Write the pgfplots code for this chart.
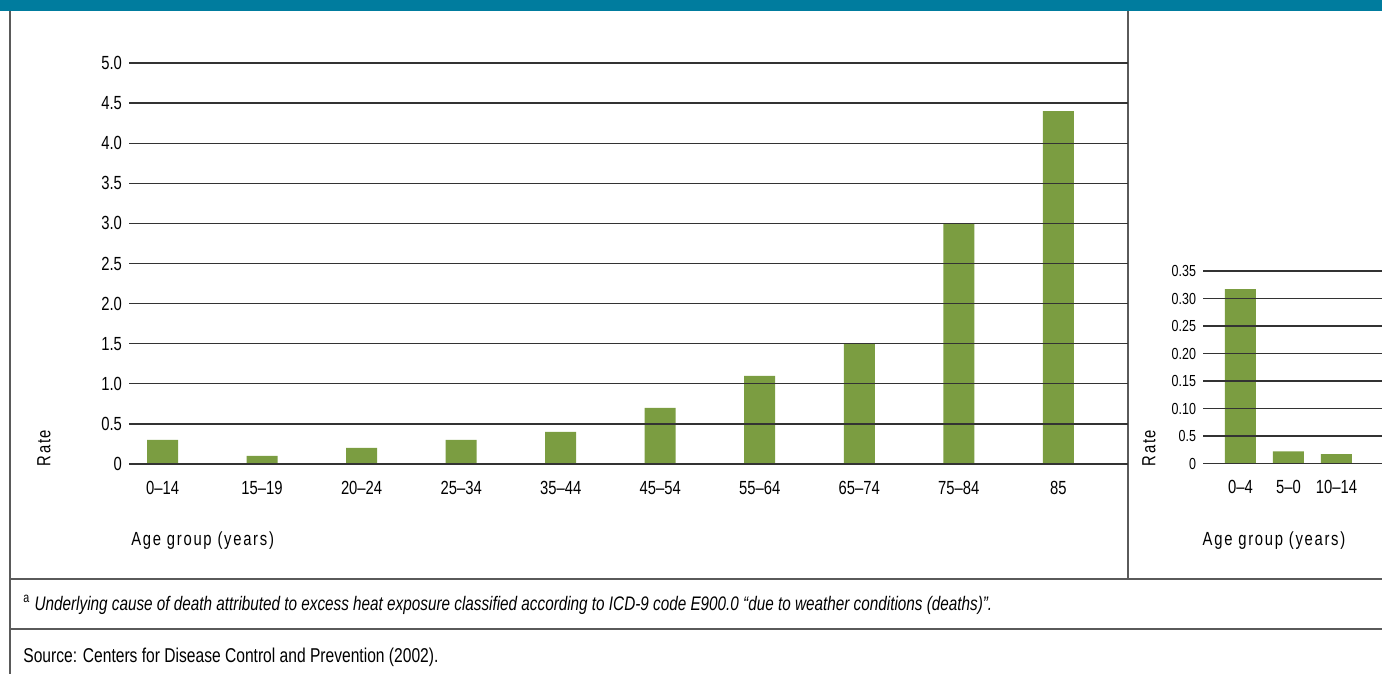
\documentclass[border=0pt]{standalone}
\usepackage{fontspec}
\setmainfont{Liberation Sans}[FakeStretch=0.78]
\usepackage{pgfplots}
\pgfplotsset{compat=1.18}
\definecolor{bargreen}{HTML}{7B9D41}
\definecolor{headteal}{HTML}{007C9E}
\definecolor{gridc}{HTML}{333333}
\definecolor{framec}{HTML}{5A5A5A}
\pgfplotsset{
  panel/.style={
    scale only axis, enlargelimits=false, axis on top,
    axis line style={draw=none}, major tick length=0pt,
    ymajorgrids, grid style={gridc, line width=0.65pt},
    ybar, bar width=15.5pt, xtick=data,
    /pgf/number format/assume math mode=true,
    xticklabel style={yshift=-5pt, font=\fontsize{9.5}{11}\selectfont},
  },
}
\newcommand{\spaced}{\fontsize{9.5}{11}\selectfont\addfontfeature{LetterSpace=9}}
\begin{document}
\begin{tikzpicture}[x=0.5pt,y=-0.5pt]
\useasboundingbox (0,0) rectangle (1382,674);
\fill[headteal] (0,0) rectangle (1382,11);
\draw[framec, line width=0.8pt] (10,11) -- (10,674);
\draw[framec, line width=0.8pt] (1128,11) -- (1128,579);
\draw[framec, line width=0.6pt] (10,579) -- (1382,579);
\draw[framec, line width=0.6pt] (10,629) -- (1382,629);

% all ages
\begin{axis}[panel,
  at={(64.5pt,-232pt)}, anchor=south west,
  width=499.5pt, height=200.5pt,
  xmin=-0.337, xmax=9.70, ymin=0, ymax=5,
  ytick={0,0.5,...,5},
  yticklabels={0,0.5,1.0,1.5,2.0,2.5,3.0,3.5,4.0,4.5,5.0},
  yticklabel style={font=\fontsize{9.5}{11}\selectfont},
  xticklabels={0--14,15--19,20--24,25--34,35--44,45--54,55--64,65--74,75--84,85},
]
\addplot[fill=bargreen, draw=none] coordinates {
  (0,0.3) (1,0.1) (2,0.2) (3,0.3) (4,0.4)
  (5,0.7) (6,1.1) (7,1.5) (8,3.0) (9,4.4)};
\end{axis}

% children
\begin{axis}[panel,
  at={(601.5pt,-231.75pt)}, anchor=south west,
  width=89.5pt, height=96.25pt,
  xmin=-0.78, xmax=2.95, ymin=0, ymax=0.35,
  ytick={0,0.05,0.10,0.15,0.20,0.25,0.30,0.35},
  yticklabels={0,0.5,0.10,0.15,0.20,0.25,0.30,0.35},
  yticklabel style={font=\fontsize{8}{10}\selectfont},
  xticklabels={0--4,5--0,10--14},
]
\addplot[fill=bargreen, draw=none] coordinates {(0,0.317) (1,0.022) (2,0.017)};
\end{axis}

\node[anchor=base west, inner sep=0, font=\spaced] at (131,545) {Age group (years)};
\node[anchor=base, inner sep=0, font=\spaced] at (1274,545) {Age group (years)};
\node[rotate=90, inner sep=0, font=\spaced] at (44,448) {Rate};
\node[rotate=90, inner sep=0, font=\spaced] at (1149,448) {Rate};
\node[anchor=base west, inner sep=0, font=\fontsize{9.8}{11}\selectfont] at (23,610)
  {\textsuperscript{a} \itshape Underlying cause of death attributed to excess heat exposure classified according to ICD-9 code E900.0 “due to weather conditions (deaths)”.};
\node[anchor=base west, inner sep=0, font=\fontsize{10}{12}\selectfont] at (23,662)
  {Source: Centers for Disease Control and Prevention (2002).};
\end{tikzpicture}
\end{document}
